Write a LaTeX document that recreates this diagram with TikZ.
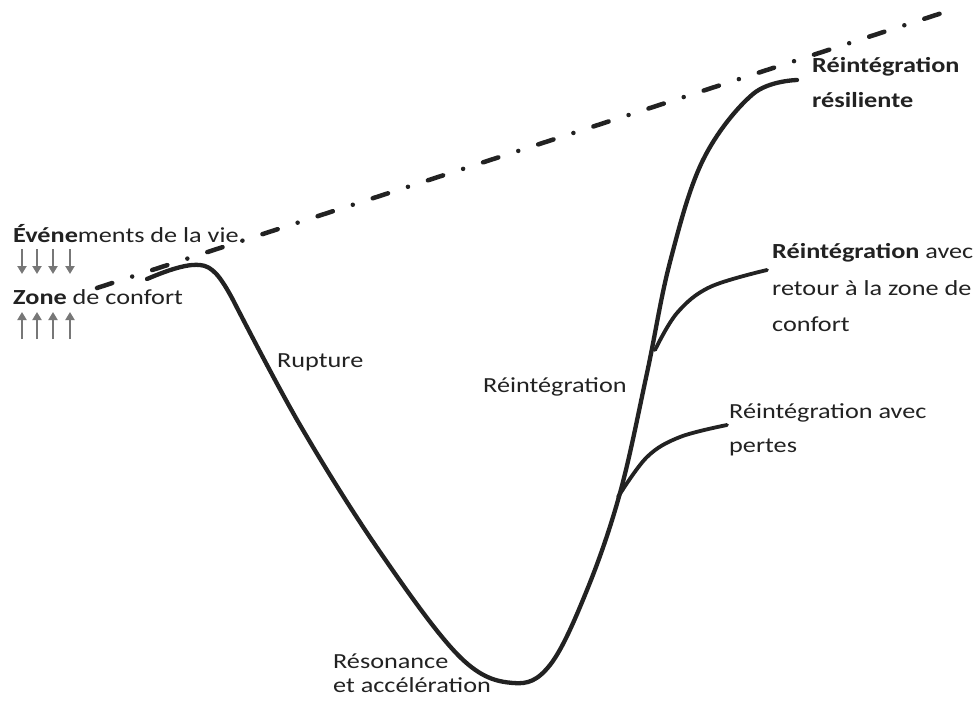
\documentclass[tikz,border=0pt]{standalone}
\usepackage{fontspec}
\usetikzlibrary{arrows.meta}
\setmainfont{Carlito}[FakeStretch=1.22]
\definecolor{ink}{HTML}{222222}
\definecolor{arrgray}{HTML}{777777}
\begin{document}
\begin{tikzpicture}[x=1pt,y=-1pt,
  lbl/.style={anchor=base west,inner sep=0pt,text=ink,font=\fontsize{21.5}{36}\selectfont},
  curve/.style={draw=ink,line width=4.3pt,line cap=round,line join=round},
  branch/.style={draw=ink,line width=3.8pt,line cap=round},
  dashdot/.style={draw=ink,line width=4.5pt,line cap=round,dash pattern=on 16pt off 21pt on 0pt off 21pt},
  garrow/.style={draw=arrgray,line width=2pt,-{Triangle[length=8pt,width=9pt]}}]
\path[use as bounding box] (0,0) rectangle (975,704);
\fill[white] (0,0) rectangle (975,704);
% dash-dot reference line
\coordinate (dl) at (97,288);
\coordinate (dr) at (942,13);
\draw[dashdot] (dl) -- (dr);
% main curve: peak, descent, bottom, rise
\draw[curve] (147,279) .. controls (175,267) and (190,264) .. (200,265)
  .. controls (212,266) and (220,276) .. (232,298)
  plot[smooth,tension=0.6] coordinates {
 (232,298) (300,425) (380,552) (460,657)
 (513,683) (550,665) (587,590) (620,493) (647,373) (670,262) (703,160)
 (753,94) (797,80)};
% branches
\draw[branch] plot[smooth,tension=0.6] coordinates {(655,350) (677,313) (710,287) (767,270)};
\draw[branch] plot[smooth,tension=0.6] coordinates {(618,497) (647,457) (680,437) (727,425)};
% arrows
\foreach \x in {22,37,53,70} {
  \draw[garrow] (\x,249) -- (\x,274);
  \draw[garrow] (\x,339) -- (\x,312);
}
% labels
\node[lbl] (ev) at (13,242) {{\bfseries Événe}ments de la vie.};
\node[lbl] (zone) at (13,304) {{\bfseries Zone} de confort};
\node[lbl] (rupt) at (277,367) {Rupture};
\node[lbl] (res1) at (333,668) {Résonance};
\node[lbl] (res2) at (333,692) {et accélération};
\node[lbl] (reint) at (483,392) {Réintégration};
\node[lbl] (resil1) at (812,72) {\bfseries Réintégration};
\node[lbl] (resil2) at (812,107) {\bfseries résiliente};
\node[lbl] (ret1) at (772,258) {{\bfseries Réintégration} avec};
\node[lbl] (ret2) at (772,295) {retour à la zone de};
\node[lbl] (ret3) at (772,331) {confort};
\node[lbl] (per1) at (729,418) {Réintégration avec};
\node[lbl] (per2) at (729,452) {pertes};
\end{tikzpicture}
\end{document}
